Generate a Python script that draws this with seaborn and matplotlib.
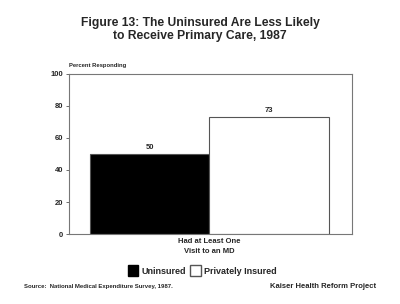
import matplotlib
matplotlib.use("Agg")
import matplotlib.pyplot as plt
import seaborn as sns
import pandas as pd
from matplotlib.patches import Patch

categories = ["Had at Least One\nVisit to an MD"]
groups = ["Uninsured", "Privately Insured"]
values = [50, 73]
yticks = [0, 20, 40, 60, 80, 100]

df = pd.DataFrame({"cat": categories * 2, "group": groups, "value": values})

sns.set_theme(style="white")
plt.rcParams["font.family"] = ["Liberation Sans", "DejaVu Sans"]
plt.rcParams["font.weight"] = "bold"

fig = plt.figure(figsize=(4.0, 3.04), dpi=100)
ax = fig.add_axes([0.1725, 0.230, 0.7075, 0.527])

sns.barplot(data=df, x="cat", y="value", hue="group",
            palette={"Uninsured": "black", "Privately Insured": "white"},
            width=0.8, edgecolor="#555555", linewidth=0.8, ax=ax, legend=False)

ax.set_xlim(-0.47, 0.477)
ax.set_ylim(0, 100)
ax.set_yticks(yticks)
ax.set_yticklabels([str(t) for t in yticks], fontsize=5.5, fontweight="bold")
ax.tick_params(axis="y", length=2, width=0.6, pad=2, left=True, color="#555555")
ax.tick_params(axis="x", length=0, pad=3)
ax.set_xticks([0])
ax.set_xticklabels(categories, fontsize=5.5, fontweight="bold", linespacing=1.5)
ax.set_xlabel("")
ax.set_ylabel("")
for s in ax.spines.values():
    s.set_color("#777777")
    s.set_linewidth(0.8)

for c in ax.containers:
    ax.bar_label(c, fmt="%d", fontsize=5.5, fontweight="bold", padding=2)

fig.text(0.5, 0.945, "Figure 13: The Uninsured Are Less Likely\nto Receive Primary Care, 1987",
         ha="center", va="top", fontsize=8.7, fontweight="bold", linespacing=1.15)
fig.text(0.1725, 0.775, "Percent Responding", ha="left", va="bottom",
         fontsize=4.2, fontweight="bold")

handles = [Patch(facecolor="black", edgecolor="black", label="Uninsured"),
           Patch(facecolor="white", edgecolor="#555555", label="Privately Insured")]
fig.legend(handles=handles, loc="center", bbox_to_anchor=(0.505, 0.11), ncol=2,
           frameon=False, prop={"weight": "bold", "size": 6.5},
           handlelength=1.2, handleheight=1.4, handletextpad=0.3, columnspacing=0.5)

fig.text(0.06, 0.058, "Source:  National Medical Expenditure Survey, 1987.",
         ha="left", va="center", fontsize=4.3, fontweight="bold")
fig.text(0.94, 0.058, "Kaiser Health Reform Project", ha="right", va="center",
         fontsize=5.5, fontweight="bold")

fig.savefig("out.png", dpi=100, facecolor="white")
